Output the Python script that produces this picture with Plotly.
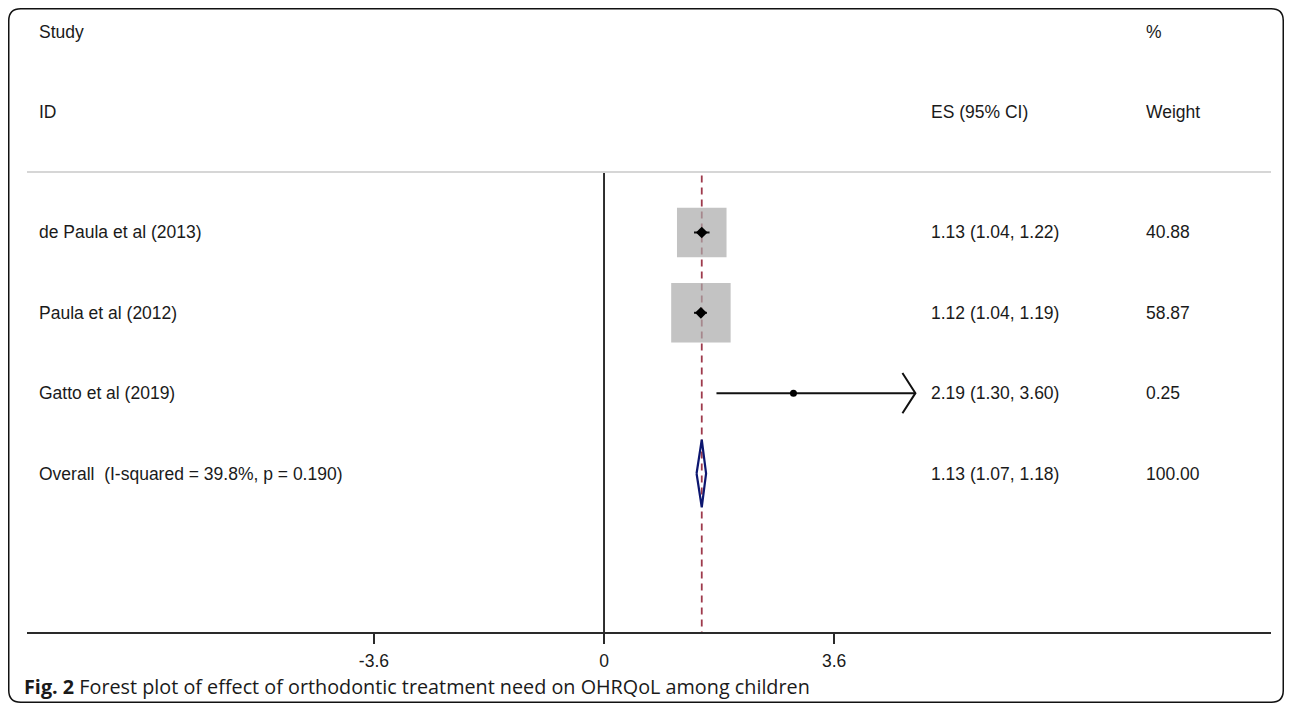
import plotly.graph_objects as go

# ---- data ----
studies = ["de Paula et al (2013)", "Paula et al (2012)", "Gatto et al (2019)"]
es = [1.13, 1.12, 2.19]
ci_lo = [1.04, 1.04, 1.30]
ci_hi = [1.22, 1.19, 3.60]
weights = [40.88, 58.87, 0.25]
es_text = ["1.13 (1.04, 1.22)", "1.12 (1.04, 1.19)", "2.19 (1.30, 3.60)"]
weight_text = ["40.88", "58.87", "0.25"]
overall_label = "Overall  (I-squared = 39.8%, p = 0.190)"
overall_es, overall_lo, overall_hi = 1.13, 1.07, 1.18
overall_es_text = "1.13 (1.07, 1.18)"
overall_weight_text = "100.00"
tick_labels = ["-3.6", "0", "3.6"]
axis_tick_positions = [-2.66, 0, 2.66]
caption_bold = "Fig. 2"
caption_text = "Forest plot of effect of orthodontic treatment need on OHRQoL among children"

# ---- layout geometry (figure pixels; page has an 8px body margin) ----
W, H = 1276, 695
ML, MR, MT, MB = 19, 13, 12, 71
PW, PH = W - ML - MR, H - MT - MB
X_RANGE = [-6.671, 7.711]
Y_RANGE = [5.973, -1.645]  # reversed: row index units
rows = [1, 2, 3]
overall_row = 4
y_study_hdr, y_id_hdr, y_sep = -1.49, -0.494, 0.247
col_label_x = -6.55
col_es_x = 3.76
col_w_x = 6.245
FONT = "Liberation Sans, Arial, sans-serif"
TXT = "#1a1a1a"

def px2paper(px, py):
    return (px - ML) / PW, 1 - (py - MT) / PH

fig = go.Figure()

# zero line
fig.add_trace(go.Scatter(x=[0, 0], y=[0.26, Y_RANGE[0]], mode="lines",
                         line=dict(color="#1a1a1a", width=1.8), hoverinfo="skip"))
# pooled effect dashed line
fig.add_trace(go.Scatter(x=[overall_es, overall_es], y=[0.29, Y_RANGE[0]], mode="lines",
                         line=dict(color="#9e3a4c", width=1.8, dash="7px,5px"), hoverinfo="skip"))

# weight boxes
box_sizes = [7.75 * w ** 0.5 for w in weights]
fig.add_trace(go.Scatter(x=es, y=rows, mode="markers",
                         marker=dict(symbol="square", size=box_sizes, color="#a9a9a9",
                                     line=dict(width=0)), hoverinfo="skip"))

# CI lines (arrow where CI reaches display limit)
for i, r in enumerate(rows):
    fig.add_trace(go.Scatter(x=[ci_lo[i], ci_hi[i]], y=[r, r], mode="lines",
                             line=dict(color="#111111", width=2), hoverinfo="skip"))
arrow_i = 2
dx, dy = 0.15, 0.25
fig.add_trace(go.Scatter(x=[ci_hi[arrow_i] - dx, ci_hi[arrow_i], ci_hi[arrow_i] - dx],
                         y=[rows[arrow_i] - dy, rows[arrow_i], rows[arrow_i] + dy],
                         mode="lines", line=dict(color="#111111", width=2), hoverinfo="skip"))

# point estimates
fig.add_trace(go.Scatter(x=es[:2], y=rows[:2], mode="markers",
                         marker=dict(symbol="diamond", size=9, color="#000000"), hoverinfo="skip"))
fig.add_trace(go.Scatter(x=es[2:], y=rows[2:], mode="markers",
                         marker=dict(symbol="circle", size=7, color="#000000"), hoverinfo="skip"))

# overall diamond
dh = 0.42
fig.add_trace(go.Scatter(x=[overall_lo, overall_es, overall_hi, overall_es, overall_lo],
                         y=[overall_row, overall_row - dh, overall_row, overall_row + dh, overall_row],
                         mode="lines", line=dict(color="#0d1770", width=2.2), hoverinfo="skip"))

# texts
ann = []
def txt(x, y, s, xref="x", yref="y", size=17.5, font=FONT):
    ann.append(dict(x=x, y=y, xref=xref, yref=yref, text=s, showarrow=False,
                    xanchor="left", yanchor="middle",
                    font=dict(family=font, size=size, color=TXT)))

txt(col_label_x, y_study_hdr, "Study")
txt(col_label_x, y_id_hdr, "ID")
txt(col_es_x, y_id_hdr, "ES (95% CI)")
txt(col_w_x, y_study_hdr, "%")
txt(col_w_x, y_id_hdr, "Weight")
for i, r in enumerate(rows):
    txt(col_label_x, r, studies[i])
    txt(col_es_x, r, es_text[i])
    txt(col_w_x, r, weight_text[i])
txt(col_label_x, overall_row, overall_label)
txt(col_es_x, overall_row, overall_es_text)
txt(col_w_x, overall_row, overall_weight_text)

cx, cy = px2paper(14, 679)
txt(cx, cy, f"<b>{caption_bold}</b> {caption_text}", xref="paper", yref="paper",
    size=19.8, font="Open Sans, sans-serif")

# header separator
shapes = [dict(type="line", xref="paper", yref="y", x0=0, x1=1, y0=y_sep, y1=y_sep,
               line=dict(color="#c8c8c8", width=1.5))]

# rounded border
bx0, by0, bx1, by1, rad = 0.75, 0.75, W - 0.75, H - 0.75, 12
def P(px, py):
    a, b = px2paper(px, py)
    return f"{a:.5f},{b:.5f}"
path = (f"M {P(bx0 + rad, by0)} L {P(bx1 - rad, by0)} Q {P(bx1, by0)} {P(bx1, by0 + rad)} "
        f"L {P(bx1, by1 - rad)} Q {P(bx1, by1)} {P(bx1 - rad, by1)} "
        f"L {P(bx0 + rad, by1)} Q {P(bx0, by1)} {P(bx0, by1 - rad)} "
        f"L {P(bx0, by0 + rad)} Q {P(bx0, by0)} {P(bx0 + rad, by0)} Z")
shapes.append(dict(type="path", xref="paper", yref="paper", path=path,
                   line=dict(color="#111111", width=1.5)))

fig.update_layout(
    width=W, height=H, margin=dict(l=ML, r=MR, t=MT, b=MB),
    paper_bgcolor="white", plot_bgcolor="white", showlegend=False,
    annotations=ann, shapes=shapes,
    xaxis=dict(range=X_RANGE, showgrid=False, zeroline=False, showline=True,
               linecolor="#2a2a2a", linewidth=2, ticks="outside", ticklen=10,
               tickwidth=2, tickcolor="#2a2a2a", tickvals=axis_tick_positions,
               ticktext=tick_labels, ticklabelstandoff=2,
               tickfont=dict(family=FONT, size=17.5, color=TXT), fixedrange=True),
    yaxis=dict(range=Y_RANGE, visible=False, showgrid=False, zeroline=False, fixedrange=True),
)

fig.write_html("out.html")
